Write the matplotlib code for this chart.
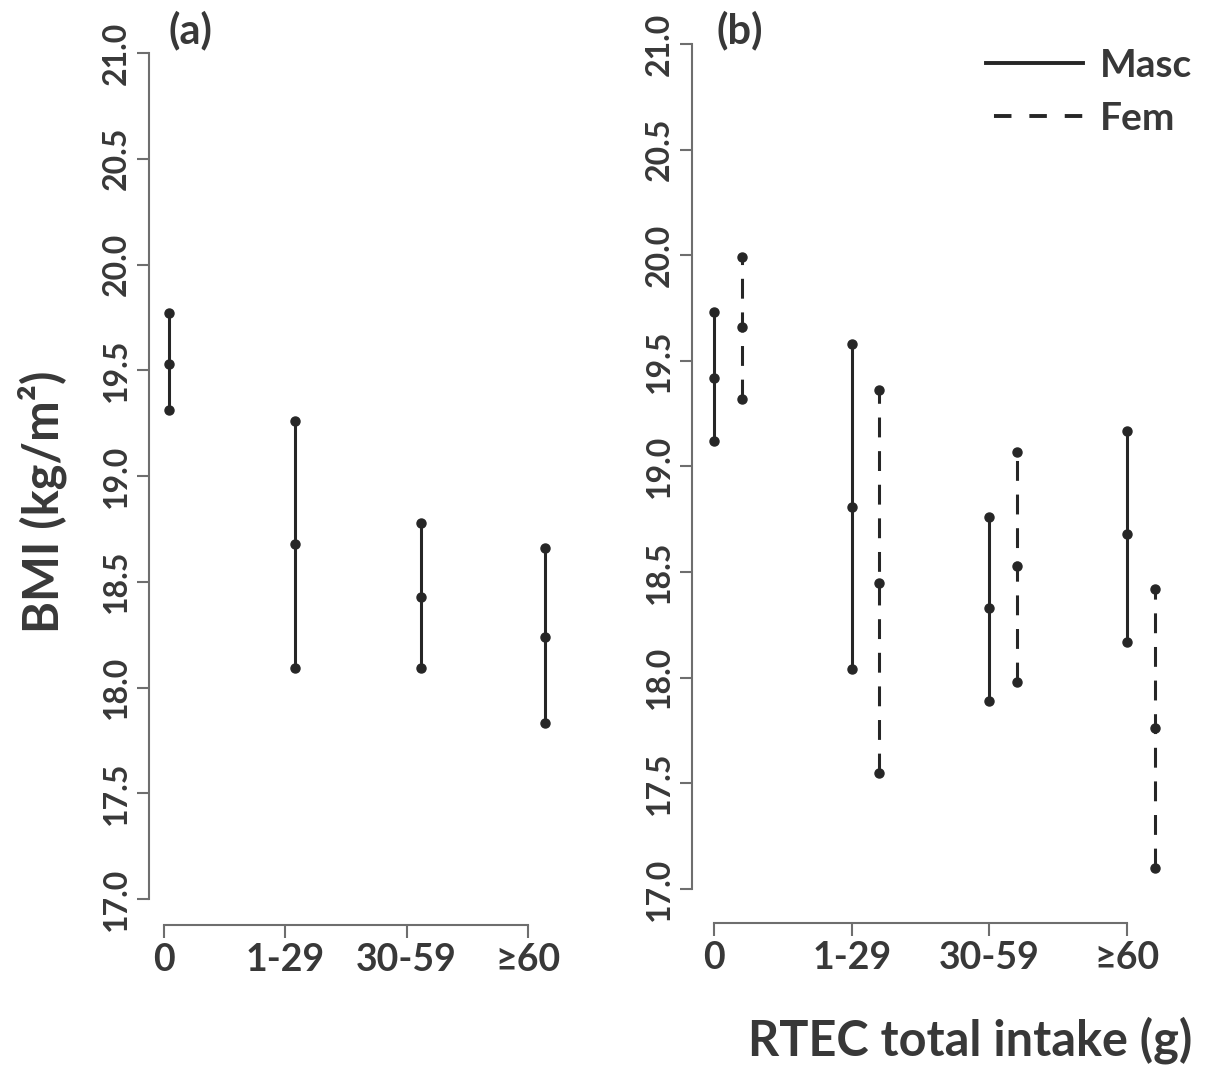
import matplotlib
matplotlib.use('Agg')
import matplotlib.pyplot as plt
from matplotlib.lines import Line2D

plt.rcParams['font.family'] = ['Lato', 'DejaVu Sans']
plt.rcParams['font.weight'] = 'bold'

# data
categories = ['0', '1-29', '30-59', '≥60']
yticks = [17.0, 17.5, 18.0, 18.5, 19.0, 19.5, 20.0, 20.5, 21.0]

# panel (a): all
a_low = [19.31, 18.09, 18.09, 17.83]
a_mid = [19.53, 18.68, 18.43, 18.24]
a_high = [19.77, 19.26, 18.78, 18.66]

# panel (b): by sex
masc_low = [19.12, 18.04, 17.89, 18.17]
masc_mid = [19.42, 18.81, 18.33, 18.68]
masc_high = [19.73, 19.58, 18.76, 19.17]
fem_low = [19.32, 17.55, 17.98, 17.10]
fem_mid = [19.66, 18.45, 18.53, 17.76]
fem_high = [19.99, 19.36, 19.07, 18.42]

txt = '#383838'
mark = '#262626'
axcol = '#6e6e6e'
dash = (0, (6.5, 4.5))

W, H = 1207, 1066
fig = plt.figure(figsize=(W / 100, H / 100), dpi=100)


def px_axes(l, r, t, b):
    return fig.add_axes([l / W, 1 - b / H, (r - l) / W, (b - t) / H])


def style(ax, xlim, drop):
    ax.set_ylim(17, 21)
    ax.set_xlim(*xlim)
    for s in ['top', 'right']:
        ax.spines[s].set_visible(False)
    ax.spines['left'].set_bounds(17, 21)
    ax.spines['bottom'].set_bounds(1, 4)
    ax.spines['bottom'].set_position(('outward', drop))
    for s in ['left', 'bottom']:
        ax.spines[s].set_color(axcol)
        ax.spines[s].set_linewidth(1.5)
    ax.set_yticks(yticks)
    ax.set_yticklabels(['%.1f' % v for v in yticks])
    ax.set_xticks([1, 2, 3, 4])
    ax.set_xticklabels(categories)
    ax.tick_params(axis='both', colors=axcol, width=1.5, length=9, labelcolor=txt)
    ax.tick_params(axis='y', labelsize=23, pad=4)
    ax.tick_params(axis='x', labelsize=27, pad=4)
    for lab in ax.get_yticklabels():
        lab.set_rotation(90)
        lab.set_va('center')
    ax.patch.set_alpha(0)


def ranges(ax, xs, low, mid, high, ls):
    ax.vlines(xs, low, high, colors=mark, linewidth=2.2, linestyles=ls)
    for ys in (low, mid, high):
        ax.plot(xs, ys, 'o', color=mark, markersize=6.5, linestyle='none')


# panel (a)
ax1 = px_axes(149, 560, 53, 899)
style(ax1, (0.876, 4.264), 18.7)
xa = [i + 1 + d for i, d in enumerate([0.04, 0.08, 0.12, 0.14])]
ranges(ax1, xa, a_low, a_mid, a_high, 'solid')

# panel (b)
ax2 = px_axes(692, 1180, 44, 889)
style(ax2, (0.840, 4.385), 24.5)
xm = [i + 1 for i in range(4)]
xf = [i + 1.2 for i in range(4)]
ranges(ax2, xm, masc_low, masc_mid, masc_high, 'solid')
ranges(ax2, xf, fem_low, fem_mid, fem_high, dash)

handles = [Line2D([], [], color=mark, lw=2.8),
           Line2D([], [], color=mark, lw=2.8, linestyle=(7.05, (4.5, 4.6)))]
leg = ax2.legend(handles, ['Masc', 'Fem'], loc='upper left',
                 bbox_to_anchor=(986 / W, 1 - 48 / H), bbox_transform=fig.transFigure,
                 frameon=False, fontsize=28, handlelength=2.5, handletextpad=0.42,
                 labelspacing=0.45, borderpad=0, borderaxespad=0)
for t in leg.get_texts():
    t.set_color(txt)

fig.text(190 / W, 1 - 30 / H, '(a)', fontsize=30, color=txt, ha='center', va='center')
fig.text(740 / W, 1 - 30 / H, '(b)', fontsize=30, color=txt, ha='center', va='center')
fig.text(42 / W, 1 - 502 / H, 'BMI (kg/m²)', fontsize=35, color=txt,
         rotation=90, ha='center', va='center')
fig.text(970 / W, 1 - 1040 / H, 'RTEC total intake (g)', fontsize=35, color=txt,
         ha='center', va='center')

fig.savefig('out.png', dpi=100, facecolor='white')
